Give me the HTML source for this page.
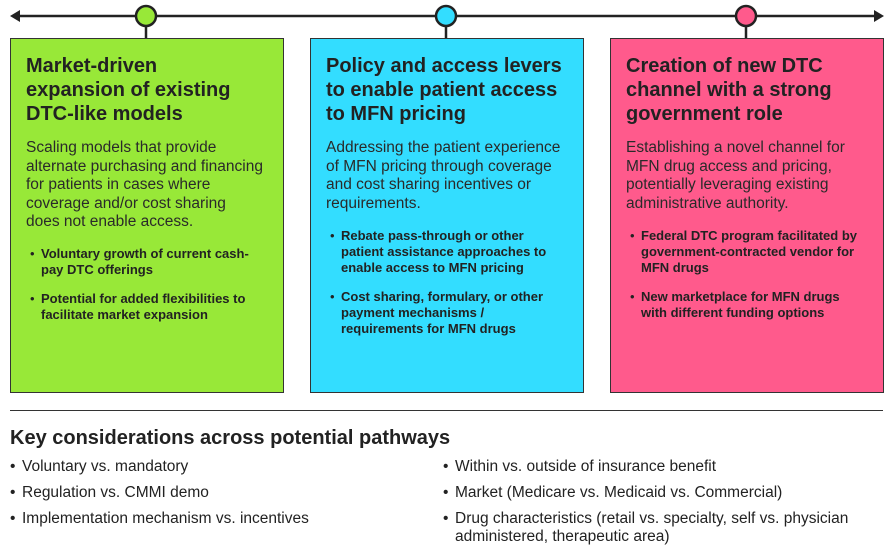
<!DOCTYPE html>
<html><head><meta charset="utf-8"><style>
body{margin:0;width:895px;height:552px;background:#fff;position:relative;overflow:hidden;font-family:"Liberation Sans",Arial,sans-serif;color:#222}
.box{position:absolute;top:38px;width:274px;height:355px;border:1px solid #333;box-sizing:border-box}
.t{position:absolute;left:16px;top:54px;font-size:20px;font-weight:bold;line-height:24px;white-space:nowrap}
.b{position:absolute;left:16px;font-size:15.5px;line-height:18.5px;white-space:nowrap;color:#2a2a2a}
.bl{position:absolute;left:31px;font-size:13px;font-weight:bold;line-height:16px;white-space:nowrap}
.bl::before{content:"•";position:absolute;left:-11px;font-weight:normal}
.k{position:absolute;font-size:15.5px;line-height:26px;white-space:nowrap}
.k div{position:relative;padding-left:12px}
.k div::before{content:"•";position:absolute;left:0}
</style></head><body>
<svg width="895" height="40" style="position:absolute;left:0;top:0">
<line x1="14" y1="16" x2="880" y2="16" stroke="#222" stroke-width="2.5"/>
<polygon points="10,16 20,10 20,22" fill="#222"/>
<polygon points="884,16 874,10 874,22" fill="#222"/>
<line x1="146" y1="16" x2="146" y2="38" stroke="#222" stroke-width="2.5"/>
<line x1="446" y1="16" x2="446" y2="38" stroke="#222" stroke-width="2.5"/>
<line x1="746" y1="16" x2="746" y2="38" stroke="#222" stroke-width="2.5"/>
<circle cx="146" cy="16" r="10" fill="#98E838" stroke="#222" stroke-width="2.5"/>
<circle cx="446" cy="16" r="10" fill="#33DDFF" stroke="#222" stroke-width="2.5"/>
<circle cx="746" cy="16" r="10" fill="#FF5A8C" stroke="#222" stroke-width="2.5"/>
</svg>

<div class="box" style="left:10px;background:#98E838"></div>
<div class="box" style="left:310px;background:#33DDFF"></div>
<div class="box" style="left:610px;background:#FF5A8C"></div>

<div style="position:absolute;left:10px;top:0">
<div class="t">Market-driven<br>expansion of existing<br>DTC-like models</div>
<div class="b" style="top:139px">Scaling models that provide<br>alternate purchasing and financing<br>for patients in cases where<br>coverage and/or cost sharing<br>does not enable access.</div>
<div class="bl" style="top:246px">Voluntary growth of current cash-<br>pay DTC offerings</div>
<div class="bl" style="top:291px">Potential for added flexibilities to<br>facilitate market expansion</div>
</div>

<div style="position:absolute;left:310px;top:0">
<div class="t">Policy and access levers<br>to enable patient access<br>to MFN pricing</div>
<div class="b" style="top:139px">Addressing the patient experience<br>of MFN pricing through coverage<br>and cost sharing incentives or<br>requirements.</div>
<div class="bl" style="top:228px">Rebate pass-through or other<br>patient assistance approaches to<br>enable access to MFN pricing</div>
<div class="bl" style="top:289px">Cost sharing, formulary, or other<br>payment mechanisms /<br>requirements for MFN drugs</div>
</div>

<div style="position:absolute;left:610px;top:0">
<div class="t">Creation of new DTC<br>channel with a strong<br>government role</div>
<div class="b" style="top:139px">Establishing a novel channel for<br>MFN drug access and pricing,<br>potentially leveraging existing<br>administrative authority.</div>
<div class="bl" style="top:228px">Federal DTC program facilitated by<br>government-contracted vendor for<br>MFN drugs</div>
<div class="bl" style="top:289px">New marketplace for MFN drugs<br>with different funding options</div>
</div>

<div style="position:absolute;left:10px;top:410px;width:873px;height:1px;background:#333"></div>
<div style="position:absolute;left:10px;top:427px;font-size:20px;font-weight:bold;line-height:22px;white-space:nowrap">Key considerations across potential pathways</div>

<div class="k" style="left:10px;top:454px">
<div>Voluntary vs. mandatory</div>
<div>Regulation vs. CMMI demo</div>
<div>Implementation mechanism vs. incentives</div>
</div>
<div class="k" style="left:443px;top:454px">
<div>Within vs. outside of insurance benefit</div>
<div>Market (Medicare vs. Medicaid vs. Commercial)</div>
<div style="line-height:18px;padding-top:4px">Drug characteristics (retail vs. specialty, self vs. physician<br>administered, therapeutic area)</div>
</div>
</body></html>
